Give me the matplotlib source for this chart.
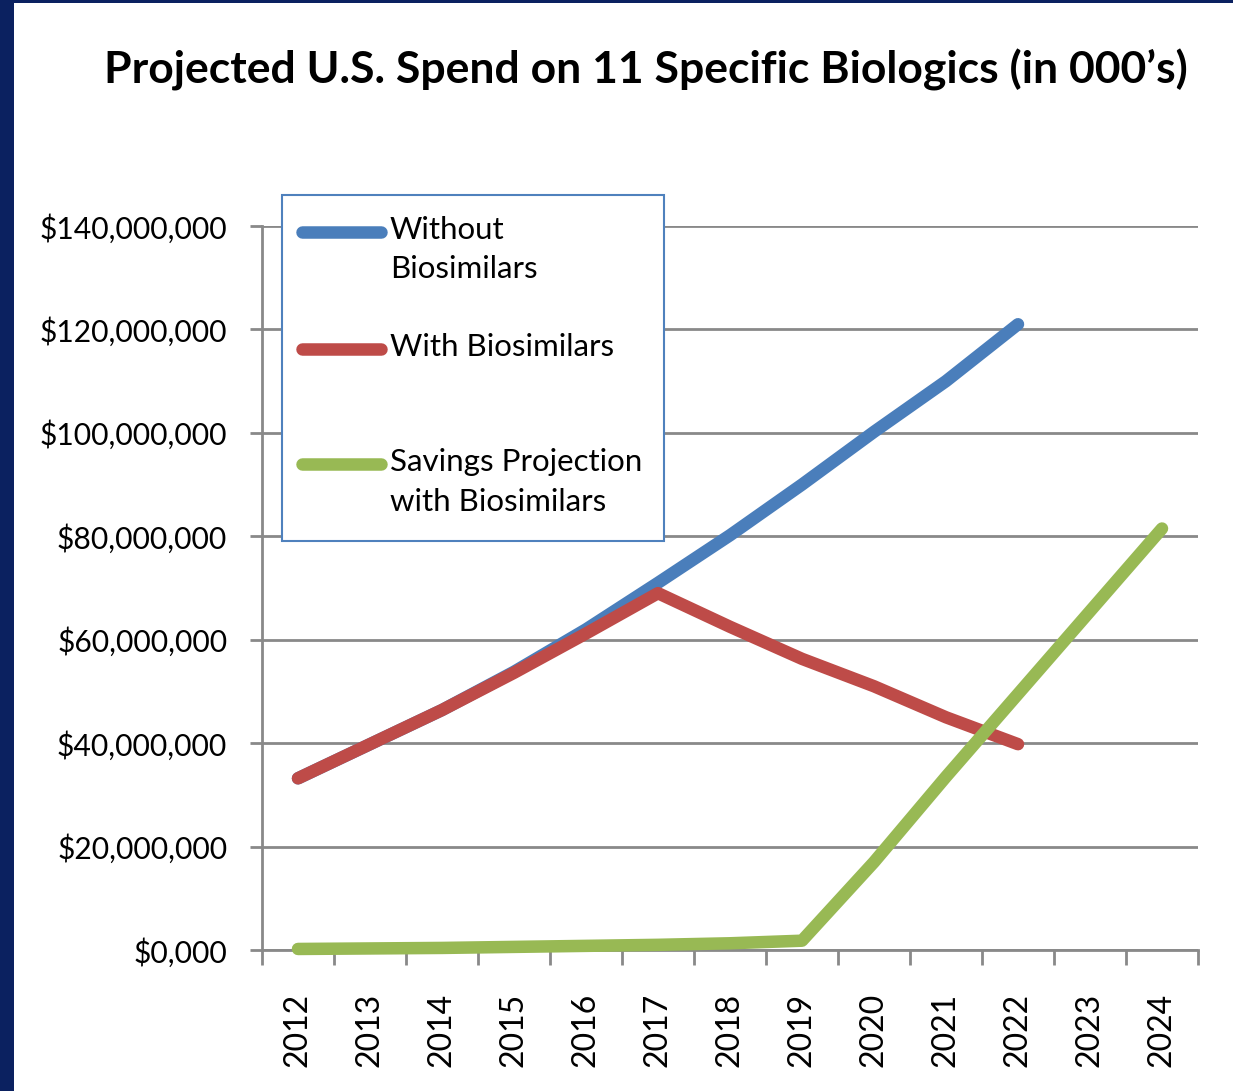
import matplotlib
matplotlib.use('Agg')
import matplotlib.pyplot as plt
from matplotlib.patches import Rectangle
from matplotlib.lines import Line2D

plt.rcParams['font.family'] = ['Lato', 'DejaVu Sans']

years = ['2012', '2013', '2014', '2015', '2016', '2017', '2018',
         '2019', '2020', '2021', '2022', '2023', '2024']
# spend in millions of (000's) dollars
without_bio = [33.2, 39.8, 46.4, 53.8, 62.0, 71.0, 80.2, 90.0, 100.2, 110.0, 121.0]
with_bio = [33.2, 39.8, 46.4, 53.6, 61.2, 69.0, 62.5, 56.3, 51.0, 45.0, 39.8]
savings = [0.2, 0.3, 0.4, 0.6, 0.8, 1.0, 1.3, 1.8, 17.0, 33.5, 49.5, 65.5, 81.5]
yticks = [0, 20, 40, 60, 80, 100, 120, 140]
ytick_labels = ['$0,000', '$20,000,000', '$40,000,000', '$60,000,000',
                '$80,000,000', '$100,000,000', '$120,000,000', '$140,000,000']
series_names = ['Without\nBiosimilars', 'With Biosimilars',
                'Savings Projection\nwith Biosimilars']
colors = ['#4A7EBB', '#BE4B48', '#98B954']

W, H = 1233, 1091
def fx(px):
    return px / W
def fy(py):
    return 1 - py / H

fig = plt.figure(figsize=(W / 100, H / 100), dpi=100)
ax = fig.add_axes([fx(262), fy(950), fx(1198) - fx(262), fy(226) - fy(950)])

grey = '#898989'
lw = 9
for vals, c in zip([without_bio, with_bio, savings], colors):
    ax.plot(range(len(vals)), vals, color=c, lw=lw, solid_capstyle='round',
            solid_joinstyle='round', clip_on=False, zorder=3)

ax.set_xlim(-0.5, len(years) - 0.5)
ax.set_ylim(0, 140)
ax.set_yticks(yticks)
ax.set_yticklabels(ytick_labels)
ax.set_xticks([i - 0.5 for i in range(len(years) + 1)])
ax.set_xticklabels([])
ax.set_xticks(range(len(years)), minor=True)
ax.set_xticklabels(years, minor=True, rotation=90, va='top')
ax.grid(axis='y', color=grey, lw=2)
ax.set_axisbelow(True)
for s in ['top', 'right']:
    ax.spines[s].set_visible(False)
for s in ['left', 'bottom']:
    ax.spines[s].set_color(grey)
    ax.spines[s].set_linewidth(2)
ax.tick_params(axis='y', length=9, width=2, color=grey, pad=16, labelsize=21.6)
ax.tick_params(axis='x', which='major', length=11, width=2, color=grey)
ax.tick_params(axis='x', which='minor', length=0, pad=31, labelsize=23)

fig.text(fx(646), fy(70), 'Projected U.S. Spend on 11 Specific Biologics (in 000\u2019s)',
         ha='center', va='center', fontsize=32, fontweight='bold')

# legend box drawn by hand so the keys sit on the first text line
fig.add_artist(Rectangle((fx(282), fy(541)), fx(664) - fx(282), fy(195) - fy(541),
                         transform=fig.transFigure, facecolor='white',
                         edgecolor='#4F81BD', lw=1.5, zorder=5))
for name, c, y in zip(series_names, colors, [232, 349, 464]):
    fig.add_artist(Line2D([fx(302), fx(381)], [fy(y), fy(y)], color=c, lw=lw,
                          solid_capstyle='round', transform=fig.transFigure, zorder=6))
    fig.text(fx(390), fy(y - 16), name, ha='left', va='top', fontsize=22.5,
             linespacing=1.5, zorder=7)

# dark frame on the left and top edges
fig.add_artist(Rectangle((0, 0), fx(14), 1, transform=fig.transFigure,
                         facecolor='#0B2160', edgecolor='none', zorder=10))
fig.add_artist(Rectangle((0, fy(3)), 1, 1 - fy(3), transform=fig.transFigure,
                         facecolor='#0B2160', edgecolor='none', zorder=10))

fig.savefig('out.png', dpi=100, facecolor='white')
